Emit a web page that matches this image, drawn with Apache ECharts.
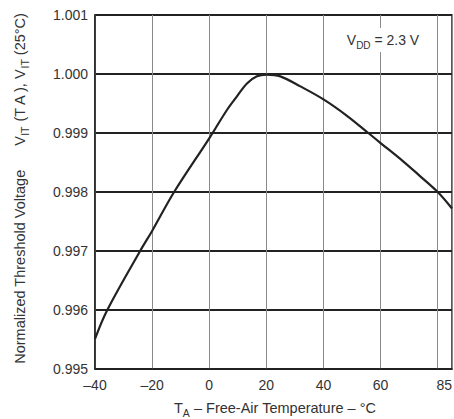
<!DOCTYPE html>
<html>
<head>
<meta charset="utf-8">
<script src="https://cdn.jsdelivr.net/npm/echarts@6/dist/echarts.min.js"></script>
<style>
html,body{margin:0;padding:0;background:#fff;}
#c{width:454px;height:419px;}
</style>
</head>
<body>
<div id="c"></div>
<script>
// Data
var temps  = [-40, -35.7, -24.2, -20, -12.3, 0, 6.2, 9.7, 13.2, 16.7, 20, 24.9, 31.9, 40, 48, 55.7, 60, 67.9, 73.8, 80, 85];
var values = [0.99551, 0.99600, 0.99700, 0.99734, 0.99800, 0.99891, 0.99939, 0.99962, 0.99984, 0.99996, 0.99999, 0.99996, 0.99979, 0.99957, 0.99930, 0.99900, 0.99883, 0.99852, 0.99827, 0.99800, 0.99772];
var xTickLabels = {'-40':'–40','-20':'–20','0':'0','20':'20','40':'40','60':'60','80':'','85':'85'};
var yTickLabels = {'0.995':'0.995','0.996':'0.996','0.997':'0.997','0.998':'0.998','0.999':'0.999','1':'1.000','1.001':'1.001'};

var seriesData = temps.map(function(t, i){ return [t, values[i]]; });
var FONT = 'Liberation Sans, Arial, Helvetica, sans-serif';

var chart = echarts.init(document.getElementById('c'), null, {renderer:'svg'});
chart.setOption({
  animation: false,
  backgroundColor: '#fff',
  grid: {left: 95, right: 2, top: 15, bottom: 50, show: true, borderColor: '#222', borderWidth: 1.5, containLabel: false, outerBoundsMode: 'none'},
  xAxis: {
    type: 'value', min: -40, max: 85, interval: 20,
    axisLine: {show: true, onZero: false, lineStyle: {color: '#222', width: 1.5}},
    axisTick: {show: false},
    splitLine: {show: true, lineStyle: {color: '#8a8a8a', width: 1}},
    axisLabel: {
      show: true, margin: 9, color: '#333', fontSize: 14, fontFamily: FONT,
      showMinLabel: true, showMaxLabel: true, hideOverlap: false, alignMaxLabel: 'right',
      formatter: function(v){ var k = String(v); return xTickLabels.hasOwnProperty(k) ? xTickLabels[k] : ''; }
    }
  },
  yAxis: {
    type: 'value', min: 0.995, max: 1.001, interval: 0.001,
    axisLine: {show: true, onZero: false, lineStyle: {color: '#222', width: 1.5}},
    axisTick: {show: false},
    splitLine: {show: true, lineStyle: {color: '#222', width: 2}},
    axisLabel: {
      show: true, margin: 7, color: '#333', fontSize: 14, fontFamily: FONT,
      formatter: function(v){ var k = String(Math.round(v*1000)/1000); return yTickLabels.hasOwnProperty(k) ? yTickLabels[k] : ''; }
    }
  },
  series: [{
    type: 'line', data: seriesData, smooth: 0.35, showSymbol: false, symbol: 'none',
    lineStyle: {color: '#222', width: 2.2}, z: 5
  }],
  graphic: [
    {
      type: 'text', x: 20, y: 188.5, rotation: Math.PI/2, z: 100,
      style: {
        text: 'Normalized Threshold Voltage      V{sub|IT} (T A ), V{sub|IT} (25°C)',
        fill: '#333', fontSize: 14.5, fontFamily: FONT, lineHeight: 20,
        align: 'center', verticalAlign: 'middle',
        rich: {sub: {fontSize: 10.5, lineHeight: 12, verticalAlign: 'bottom', fill: '#333', fontFamily: FONT}}
      }
    },
    {
      type: 'text', x: 275, y: 408, z: 100,
      style: {
        text: 'T{sub|A} – Free-Air Temperature – °C',
        fill: '#333', fontSize: 14.5, fontFamily: FONT, lineHeight: 20,
        align: 'center', verticalAlign: 'middle',
        rich: {sub: {fontSize: 10.5, lineHeight: 12, verticalAlign: 'bottom', fill: '#333', fontFamily: FONT}}
      }
    },
    {
      type: 'text', x: 383, y: 40, z: 100,
      style: {
        text: 'V{sub|DD} = 2.3 V',
        fill: '#333', fontSize: 14, fontFamily: FONT, lineHeight: 20,
        align: 'center', verticalAlign: 'middle',
        backgroundColor: '#fff', padding: [2, 3, 2, 3],
        rich: {sub: {fontSize: 10, lineHeight: 12, verticalAlign: 'bottom', fill: '#333', fontFamily: FONT}}
      }
    }
  ]
});
</script>
</body>
</html>
